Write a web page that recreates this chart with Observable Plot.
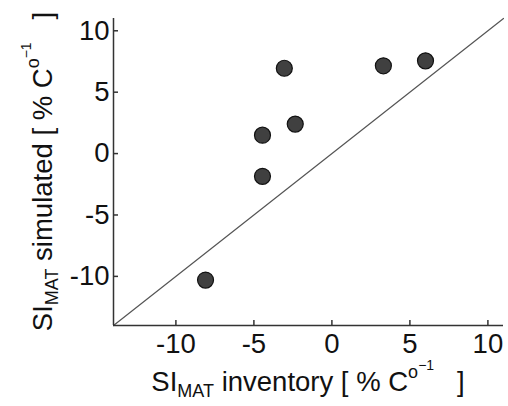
<!DOCTYPE html>
<html>
<head>
<meta charset="utf-8">
<script src="https://cdn.jsdelivr.net/npm/d3@7"></script>
<script src="https://cdn.jsdelivr.net/npm/@observablehq/plot@0.6"></script>
<style>
  html, body { margin: 0; padding: 0; background: #fff; }
  svg text { white-space: pre; }
</style>
</head>
<body>
<div id="chart"></div>
<script>
// Data
const inventory = [-8.1, -4.45, -4.45, -2.35, -3.05, 3.3, 6.0];
const simulated = [-10.3, -1.85, 1.5, 2.4, 6.95, 7.15, 7.55];
const xTicks = [-10, -5, 0, 5, 10];
const yTicks = [-10, -5, 0, 5, 10];
const domain = [-14, 11];

const points = inventory.map((x, i) => ({x, y: simulated[i]}));
const diagonal = domain.map(v => ({x: v, y: v}));

const W = 508, H = 406;
const mL = 113, mR = 5, mT = 18, mB = 81;

const svg = Plot.plot({
  width: W,
  height: H,
  marginLeft: mL,
  marginRight: mR,
  marginTop: mT,
  marginBottom: mB,
  style: {fontFamily: "Liberation Sans, Arial, sans-serif", fontSize: "27.5px", color: "#111", background: "#fff"},
  x: {domain, label: null},
  y: {domain, label: null},
  marks: [
    Plot.line(diagonal, {x: "x", y: "y", stroke: "#555", strokeWidth: 1.2}),
    Plot.ruleX([domain[0]], {stroke: "#333", strokeWidth: 1.5}),
    Plot.ruleY([domain[0]], {stroke: "#333", strokeWidth: 1.5}),
    Plot.axisX({ticks: xTicks, tickSize: -5, tickPadding: 13, stroke: "#333", strokeWidth: 1.5, label: null, tickFormat: d => String(d)}),
    Plot.axisY({ticks: yTicks, tickSize: -5, tickPadding: 9, stroke: "#333", strokeWidth: 1.5, label: null, tickFormat: d => String(d)}),
    Plot.dot(points, {x: "x", y: "y", r: 8, fill: "#404040", stroke: "#111", strokeWidth: 1.2})
  ]
});

function addLabel(sel, main) {
  sel.append("tspan").text("SI");
  sel.append("tspan").attr("font-size", 18).attr("dy", 6).text("MAT");
  sel.append("tspan").attr("dy", -6).text(main + " [ % C");
  sel.append("tspan").attr("font-size", 18).attr("dy", -13).text("o");
  sel.append("tspan").attr("font-size", 14).attr("dy", -8).text("\u22121");
  sel.append("tspan").attr("dy", 21).text("   ]");
}

const s = d3.select(svg);
const cx = mL + (W - mL - mR) / 2;
const cy = mT + (H - mT - mB) / 2;

const xl = s.append("text")
  .attr("x", cx).attr("y", 391)
  .attr("text-anchor", "middle")
  .attr("font-size", 27.5)
  .attr("fill", "#111");
addLabel(xl, " inventory");

const yl = s.append("text")
  .attr("transform", `translate(52,${cy}) rotate(-90)`)
  .attr("text-anchor", "middle")
  .attr("font-size", 27.5)
  .attr("fill", "#111");
addLabel(yl, " simulated");

document.getElementById("chart").appendChild(svg);
</script>
</body>
</html>
